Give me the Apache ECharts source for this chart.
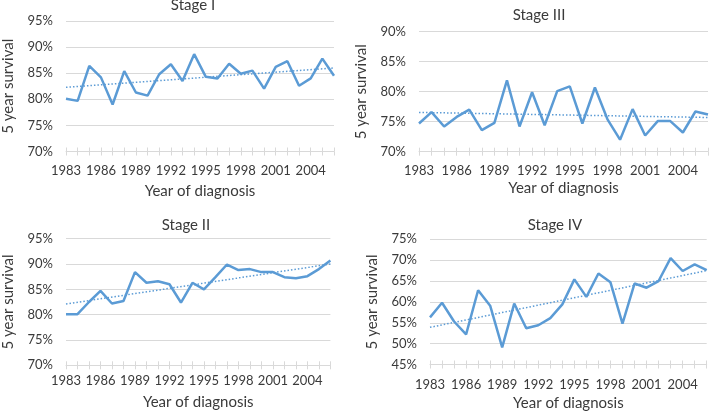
<!DOCTYPE html>
<html>
<head>
<meta charset="utf-8">
<script src="https://cdn.jsdelivr.net/npm/echarts@6/dist/echarts.min.js"></script>
<style>html,body{margin:0;padding:0;background:#fff}#c{width:709px;height:412px}</style>
</head>
<body>
<div id="c"></div>
<script>
var years = ['1983','1984','1985','1986','1987','1988','1989','1990','1991','1992','1993','1994','1995','1996','1997','1998','1999','2000','2001','2002','2003','2004','2005','2006'];
var stage1 = [80.1, 79.7, 86.4, 84.2, 79.0, 85.4, 81.3, 80.7, 84.8, 86.7, 83.5, 88.65, 84.3, 84.0, 86.8, 84.9, 85.5, 82.05, 86.2, 87.3, 82.6, 84.0, 87.8, 84.5];
var stage2 = [80.1, 80.1, 82.5, 84.7, 82.2, 82.7, 88.4, 86.3, 86.6, 86.0, 82.4, 86.3, 85.0, 87.4, 89.9, 88.8, 89.0, 88.4, 88.4, 87.4, 87.2, 87.6, 89.0, 90.7];
var stage3 = [74.7, 76.6, 74.2, 75.8, 77.0, 73.6, 74.8, 81.9, 74.2, 79.9, 74.4, 80.1, 80.9, 74.7, 80.7, 75.4, 72.0, 77.1, 72.7, 75.1, 75.1, 73.2, 76.7, 76.2];
var stage4 = [56.3, 59.8, 55.3, 52.2, 62.8, 59.1, 49.1, 59.6, 53.7, 54.4, 56.1, 59.4, 65.4, 61.2, 66.8, 64.7, 54.8, 64.4, 63.4, 65.0, 70.5, 67.4, 69.0, 67.6];
// trendline values at first and last year
var trend1 = [82.3, 86.0];
var trend2 = [82.1, 90.0];
var trend3 = [76.55, 75.7];
var trend4 = [53.9, 67.5];
var titles = ['Stage I', 'Stage III', 'Stage II', 'Stage IV'];
var yRanges = [[70, 95], [70, 90], [70, 95], [45, 75]];
var yName = '5 year survival';
var xName = 'Year of diagnosis';

var FONT = 'Lato, "Open Sans", sans-serif';
var TXT = '#3a3a3a';
var BLUE = '#5b9bd5';
var GRAY = '#d9d9d9';

var panels = [
  {grid:{left:56, top:21, width:278, height:130.5}, data:stage1, trend:trend1, title:[193, 5], lblMargin:12.5, xNameGap:32.5, yLblMargin:13},
  {grid:{left:419, top:31.7, width:289, height:120}, data:stage3, trend:trend3, title:[539, 15.5], lblMargin:12.5, xNameGap:28.5, yLblMargin:13},
  {grid:{left:56, top:238.7, width:274.4, height:126.6}, data:stage2, trend:trend2, title:[186, 225], lblMargin:9, xNameGap:29.5, yLblMargin:13},
  {grid:{left:430, top:239.3, width:276.7, height:126}, data:stage4, trend:trend4, title:[555, 225], lblMargin:14, xNameGap:31.5, yLblMargin:13}
];

var grids = [], xAxes = [], yAxes = [], series = [], graphics = [];
panels.forEach(function(p, i){
  grids.push(p.grid);
  xAxes.push({
    type:'category', gridIndex:i, data:years, boundaryGap:false,
    axisLine:{lineStyle:{color:GRAY, width:1}},
    axisTick:{show:true, interval:0, length:4, lineStyle:{color:GRAY}},
    axisLabel:{interval:2, color:TXT, fontFamily:FONT, fontSize:13, margin:p.lblMargin},
    splitLine:{show:false},
    name:xName, nameLocation:'middle', nameGap:p.xNameGap,
    nameTextStyle:{color:TXT, fontFamily:FONT, fontSize:15}
  });
  yAxes.push({
    type:'value', gridIndex:i, min:yRanges[i][0], max:yRanges[i][1], interval:5,
    axisLine:{show:false}, axisTick:{show:false},
    axisLabel:{color:TXT, fontFamily:FONT, fontSize:13, margin:p.yLblMargin, formatter:function(v){return v + '%';}},
    splitLine:{lineStyle:{color:GRAY, width:1}},
    name:yName, nameLocation:'middle', nameGap:50, nameRotate:90,
    nameTextStyle:{color:TXT, fontFamily:FONT, fontSize:15}
  });
  series.push({
    type:'line', xAxisIndex:i, yAxisIndex:i, data:p.data, symbol:'none',
    lineStyle:{color:BLUE, width:2.5}, z:3, animation:false
  });
  series.push({
    type:'line', xAxisIndex:i, yAxisIndex:i, symbol:'none',
    data:[[0, p.trend[0]], [years.length - 1, p.trend[1]]],
    lineStyle:{color:BLUE, width:1.5, type:[1.5, 2]}, z:2, animation:false
  });
  graphics.push({
    type:'text', x:p.title[0], y:p.title[1],
    style:{text:titles[i], fill:TXT, font:'15px ' + FONT, textAlign:'center', textVerticalAlign:'middle'}
  });
});
// inner tick marks (ticks crossing the axis)
panels.forEach(function(p, i){
  xAxes.push({
    type:'category', gridIndex:i, data:years, boundaryGap:false, position:'bottom',
    axisLine:{show:false},
    axisTick:{show:true, inside:true, interval:0, length:4, lineStyle:{color:GRAY}},
    axisLabel:{show:false}, splitLine:{show:false}
  });
});

var chart = echarts.init(document.getElementById('c'), null, {renderer:'canvas'});
chart.setOption({
  animation:false,
  grid:grids, xAxis:xAxes, yAxis:yAxes, series:series, graphic:graphics
});
</script>
</body>
</html>
